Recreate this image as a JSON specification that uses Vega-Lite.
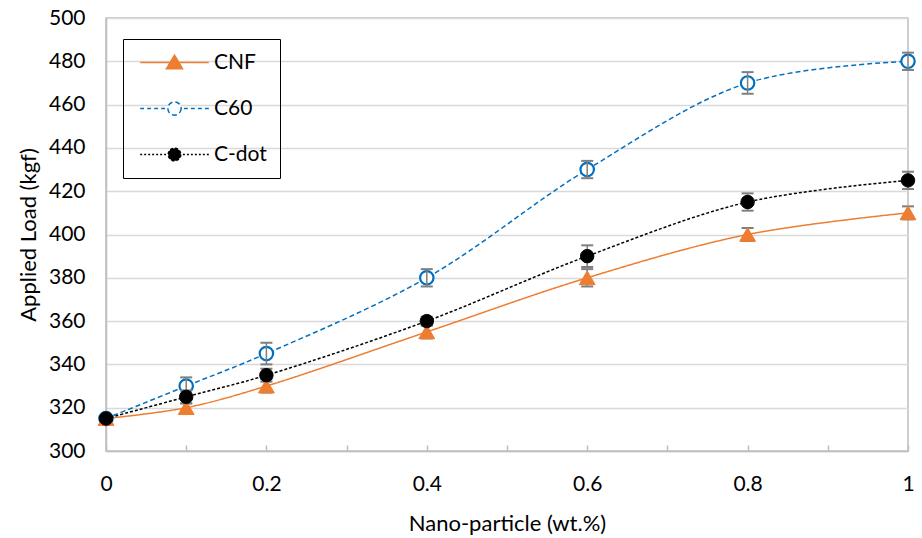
{
  "$schema": "https://vega.github.io/schema/vega-lite/v6.json",
  "autosize": "none",
  "width": 802,
  "height": 433,
  "padding": {"left": 106, "top": 18, "right": 14, "bottom": 87},
  "background": "white",
  "config": {
    "font": "Lato",
    "view": {"stroke": "#bfbfbf", "strokeWidth": 1.5},
    "axis": {"labelFont": "Lato", "titleFont": "Lato", "labelColor": "black", "titleColor": "black", "titleFontWeight": "normal", "labelFontSize": 21, "titleFontSize": 22, "domainColor": "#bfbfbf", "domainWidth": 1.5, "tickColor": "#bfbfbf", "tickWidth": 1.5, "gridColor": "#d9d9d9", "gridWidth": 1.5}
  },
  "data": {
    "values": [
      {"s": "CNF", "x": 0, "y": 315, "lo": 313, "hi": 317},
      {"s": "CNF", "x": 0.1, "y": 320, "lo": 318, "hi": 322},
      {"s": "CNF", "x": 0.2, "y": 330, "lo": 327, "hi": 333},
      {"s": "CNF", "x": 0.4, "y": 355, "lo": 352, "hi": 358},
      {"s": "CNF", "x": 0.6, "y": 380, "lo": 376, "hi": 384},
      {"s": "CNF", "x": 0.8, "y": 400, "lo": 397, "hi": 403},
      {"s": "CNF", "x": 1, "y": 410, "lo": 407, "hi": 413},
      {"s": "C60", "x": 0, "y": 315, "lo": 313, "hi": 317},
      {"s": "C60", "x": 0.1, "y": 330, "lo": 326, "hi": 334},
      {"s": "C60", "x": 0.2, "y": 345, "lo": 340, "hi": 350},
      {"s": "C60", "x": 0.4, "y": 380, "lo": 376, "hi": 384},
      {"s": "C60", "x": 0.6, "y": 430, "lo": 426, "hi": 434},
      {"s": "C60", "x": 0.8, "y": 470, "lo": 465, "hi": 475},
      {"s": "C60", "x": 1, "y": 480, "lo": 476, "hi": 484},
      {"s": "C-dot", "x": 0, "y": 315, "lo": 313, "hi": 317},
      {"s": "C-dot", "x": 0.1, "y": 325, "lo": 322, "hi": 328},
      {"s": "C-dot", "x": 0.2, "y": 335, "lo": 332, "hi": 338},
      {"s": "C-dot", "x": 0.4, "y": 360, "lo": 358, "hi": 362},
      {"s": "C-dot", "x": 0.6, "y": 390, "lo": 385, "hi": 395},
      {"s": "C-dot", "x": 0.8, "y": 415, "lo": 411, "hi": 419},
      {"s": "C-dot", "x": 1, "y": 425, "lo": 421, "hi": 429}
    ]
  },
  "encoding": {
    "x": {
      "field": "x", "type": "quantitative",
      "scale": {"domain": [0, 1], "nice": false},
      "axis": {
        "title": "Nano-particle (wt.%)",
        "values": [0, 0.1, 0.2, 0.3, 0.4, 0.5, 0.6, 0.7, 0.8, 0.9, 1],
        "labelExpr": "round(datum.value*10)%2==0 ? format(datum.value,'~g') : ''",
        "grid": false, "tickSize": -6, "labelPadding": 28, "titlePadding": 19,
        "labelFlush": false
      }
    },
    "y": {
      "field": "y", "type": "quantitative",
      "scale": {"domain": [300, 500], "nice": false, "zero": false},
      "axis": {
        "title": "Applied Load (kgf)",
        "values": [300, 320, 340, 360, 380, 400, 420, 440, 460, 480, 500],
        "ticks": false, "labelPadding": 21, "titlePadding": 8, "grid": true
      }
    }
  },
  "layer": [
    {
      "mark": {"type": "line", "interpolate": "catmull-rom", "strokeWidth": 1.5},
      "encoding": {
        "color": {
          "field": "s", "type": "nominal",
          "scale": {"domain": ["CNF", "C60", "C-dot"], "range": ["#ED7D31", "#0070C0", "#000000"]},
          "legend": {
            "title": null,
            "orient": "none",
            "legendX": 17,
            "legendY": 21,
            "strokeColor": "black",
            "padding": 13,
            "symbolSize": 196,
            "symbolOffset": 28,
            "labelOffset": 29,
            "labelFont": "Lato",
            "labelFontSize": 21,
            "labelColor": "black",
            "rowPadding": 24,
            "encode": {
              "symbols": {
                "update": {
                  "shape": {"signal": "datum.value === 'CNF' ? 'M-4.9,0H4.9M0,-1.05L1.15,0.9L-1.15,0.9Z' : datum.value === 'C60' ? 'M-4.9,0H-4.35M-3.9,0H-3.35M-2.9,0H-2.35M-1.9,0H-1.35M1.35,0H1.9M2.35,0H2.9M3.35,0H3.9M4.35,0H4.9M0.95,0A0.95,0.95,0,1,1,-0.95,0A0.95,0.95,0,1,1,0.95,0Z' : 'M-4.9,0H-4.62M-4.33,0H-4.05M-3.76,0H-3.48M-3.19,0H-2.91M-2.62,0H-2.34M-2.05,0H-1.77M-1.48,0H-1.2M1.2,0H1.48M1.77,0H2.05M2.34,0H2.62M2.91,0H3.19M3.48,0H3.76M4.05,0H4.33M4.62,0H4.9M0.9,0A0.9,0.9,0,1,1,-0.9,0A0.9,0.9,0,1,1,0.9,0Z'"},
                  "fill": {"signal": "datum.value === 'CNF' ? '#ED7D31' : datum.value === 'C60' ? 'white' : 'black'"},
                  "stroke": {"signal": "datum.value === 'CNF' ? '#ED7D31' : datum.value === 'C60' ? '#0070C0' : 'black'"},
                  "strokeWidth": {"value": 1.5},
                  "opacity": {"value": 1},
                  "fillOpacity": {"value": 1},
                  "strokeDash": {"value": [1, 0]}
                }
              }
            }
          }
        },
        "strokeDash": {
          "field": "s", "type": "nominal",
          "scale": {"domain": ["CNF", "C60", "C-dot"], "range": [[1, 0], [5, 3], [3, 2]]},
          "legend": null
        }
      }
    },
    {
      "transform": [{"filter": "datum.s === 'C60'"}],
      "mark": {"type": "point", "shape": "circle", "size": 180, "filled": false, "fill": "white", "fillOpacity": 1, "stroke": "#0070C0", "strokeWidth": 2.2, "opacity": 1}
    },
    {
      "mark": {"type": "rule", "color": "#7f7f7f", "strokeWidth": 1.5},
      "encoding": {"y": {"field": "lo", "type": "quantitative"}, "y2": {"field": "hi"}}
    },
    {
      "mark": {"type": "tick", "orient": "horizontal", "color": "#7f7f7f", "size": 12, "thickness": 2, "opacity": 1},
      "encoding": {"y": {"field": "lo", "type": "quantitative"}}
    },
    {
      "mark": {"type": "tick", "orient": "horizontal", "color": "#7f7f7f", "size": 12, "thickness": 2, "opacity": 1},
      "encoding": {"y": {"field": "hi", "type": "quantitative"}}
    },
    {
      "transform": [{"filter": "datum.s === 'CNF'"}],
      "mark": {"type": "point", "shape": "triangle-up", "size": 250, "filled": true, "fill": "#ED7D31", "stroke": "#ED7D31", "strokeWidth": 1, "opacity": 1}
    },
    {
      "transform": [{"filter": "datum.s === 'C-dot'"}],
      "mark": {"type": "point", "shape": "circle", "size": 180, "filled": true, "fill": "black", "stroke": "black", "strokeWidth": 1, "opacity": 1}
    }
  ]
}
